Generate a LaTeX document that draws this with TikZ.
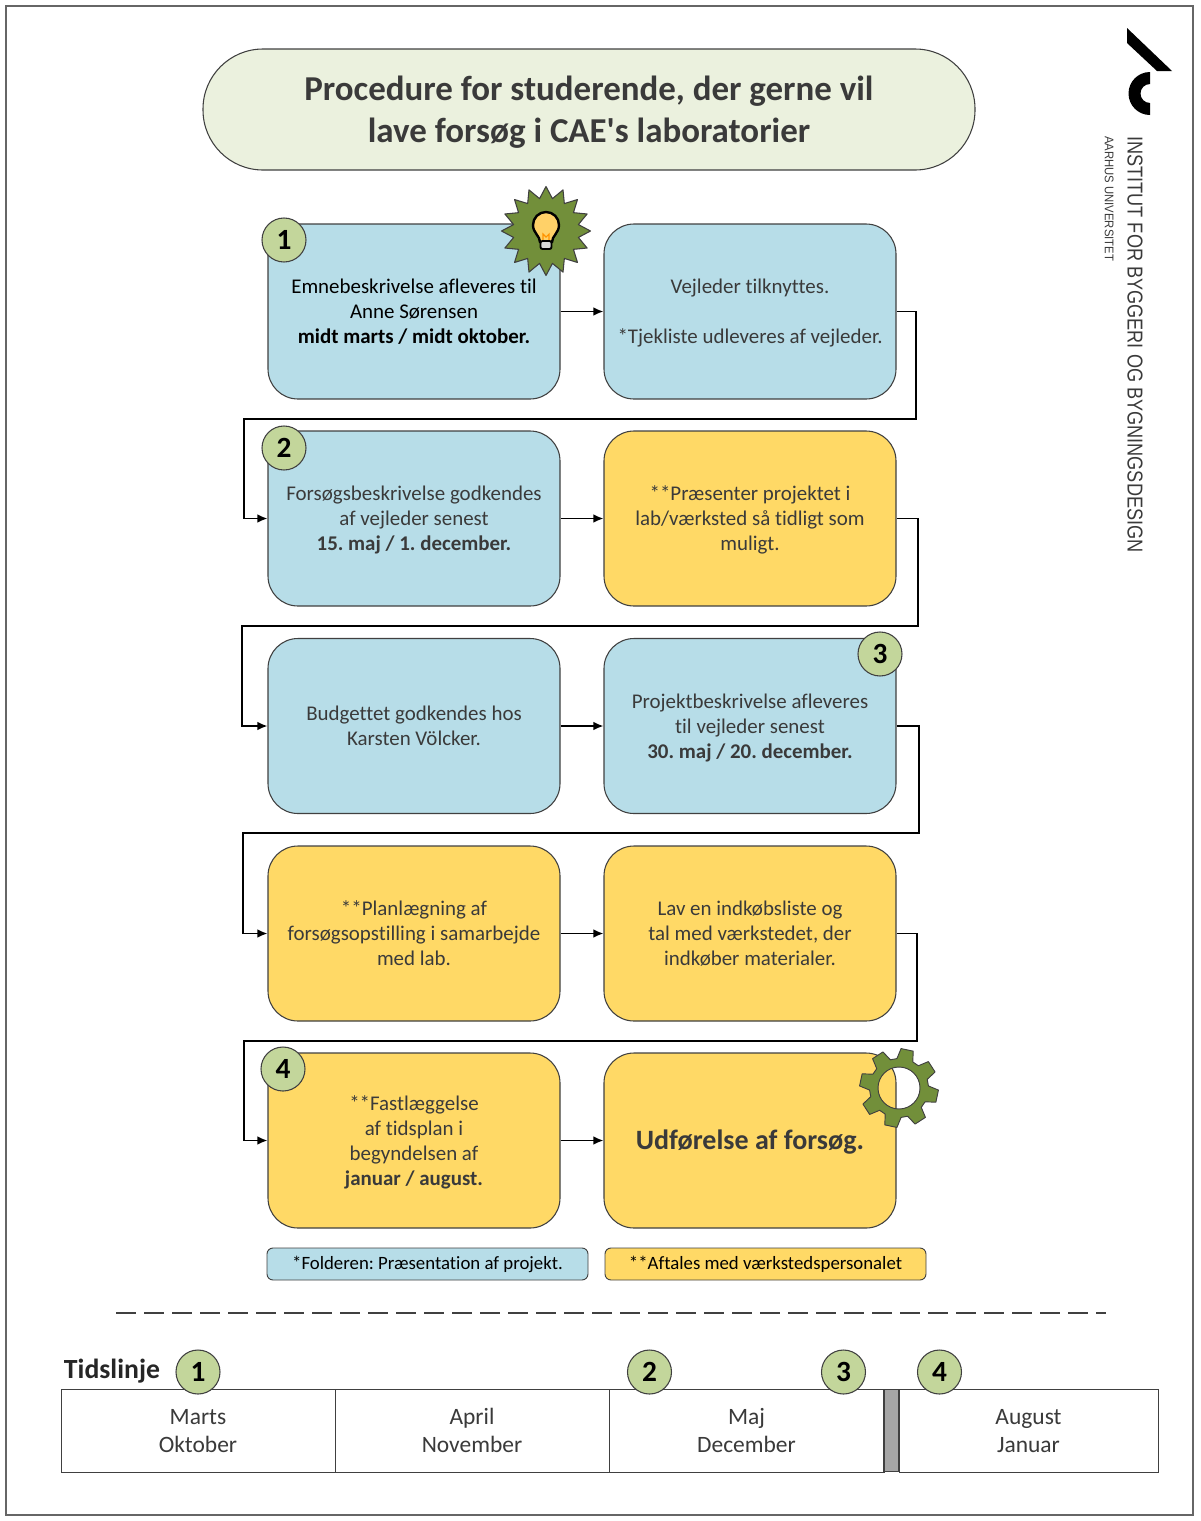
\documentclass[tikz,border=0pt]{standalone}
\usepackage{fontspec}
\defaultfontfeatures[\rmfamily]{}
\setmainfont[Ligatures={NoCommon,NoContextual}]{Carlito}
\newfontfamily\logofont{Liberation Sans}
\usetikzlibrary{arrows.meta}
\definecolor{bluefill}{HTML}{B7DDE8}
\definecolor{yellowfill}{HTML}{FFD966}
\definecolor{titlefill}{HTML}{EBF1DE}
\definecolor{circfill}{HTML}{C3D69B}
\definecolor{iconfill}{HTML}{728F3A}
\definecolor{edge}{HTML}{404040}
\definecolor{txt}{HTML}{3A3A3A}
\newcommand{\pxfont}[2]{\fontsize{#1}{#2}\selectfont}
\newcommand{\Tp}{\rule{0pt}{16.4pt}}
\newcommand{\Tq}{\rule{0pt}{28pt}}
\newcommand{\Tt}{\rule{0pt}{17.7pt}}
\frenchspacing
\tikzset{
  strutted/.style={execute at begin node={\rule{0pt}{#1}},execute at end node={\strut}},
  endstrut/.style={execute at end node={\strut}},
  procbox/.style={endstrut,draw=edge,line width=0.8pt,rounded corners=22.5pt,minimum width=219pt,minimum height=131.25pt,inner sep=0pt,align=center,text=txt,font=\pxfont{15.7}{18.75}},
  bluebox/.style={procbox,fill=bluefill},
  yellowbox/.style={procbox,fill=yellowfill},
  legendbox/.style={strutted=13.4pt,draw=edge,line width=0.7pt,rounded corners=4.5pt,minimum width=240.75pt,minimum height=24pt,inner sep=0pt,align=center,font=\pxfont{14.1}{16}},
  numdot/.style={circle,draw=edge,line width=0.8pt,fill=circfill,minimum size=33pt,inner sep=0pt,font=\pxfont{22}{24}\bfseries},
  flow/.style={draw=black,line width=1.3pt,-{Latex[length=7.5pt,width=6.5pt]}},
  timecell/.style={endstrut,draw=edge,line width=0.7pt,fill=white,minimum height=62.25pt,inner sep=0pt,align=center,text=txt,font=\pxfont{17.6}{21}},
}
\begin{document}
\begin{tikzpicture}[x=0.75pt,y=-0.75pt]
\useasboundingbox (0,0) rectangle (1200,1521);
\draw[draw=edge!80,line width=1pt] (6,6) rectangle (1193,1515);

% title
\node[endstrut,draw=edge,line width=0.8pt,fill=titlefill,rounded corners=45pt,minimum width=579pt,minimum height=90.75pt,inner sep=0pt,align=center,text=txt,font=\pxfont{26.2}{31.5}\bfseries] (title) at (589,109.5) {\Tq Procedure for studerende, der gerne vil\\lave forsøg i CAE's laboratorier};

% logo
\fill[black] (1127,28) -- (1172,71) -- (1157,71) -- (1127,43) -- cycle;
\fill[black] (1150,72) arc[start angle=270,end angle=90,radius=21.5] -- (1150,103) arc[start angle=90,end angle=270,radius=9.5] -- cycle;
\node[rotate=-90,anchor=north west,inner sep=0pt,text=txt,font=\logofont\pxfont{16.2}{20}] (inst) at (1143,136) {\scalebox{0.84}[1]{INSTITUT FOR BYGGERI OG BYGNINGSDESIGN}};
\node[rotate=-90,anchor=north west,inner sep=0pt,text=txt,font=\logofont\pxfont{9.4}{11}] (aau) at (1114,136) {\scalebox{0.9}[1]{AARHUS UNIVERSITET}};

% boxes
\node[bluebox] (a1) at (414,311.5) {\Tp\textcolor{black}{Emnebeskrivelse afleveres til}\\\textcolor{black}{Anne Sørensen}\\\textcolor{black}{\bfseries midt marts / midt oktober.}};
\node[bluebox] (a2) at (750,311.5) {\Tp Vejleder tilknyttes.\\ ~ \\{*}Tjekliste udleveres af vejleder.};
\node[bluebox] (b1) at (414,518.5) {\Tp Forsøgsbeskrivelse godkendes\\af vejleder senest\\{\bfseries 15. maj / 1. december.}};
\node[yellowbox] (b2) at (750,518.5) {\Tp **Præsenter projektet i\\lab/værksted så tidligt som\\muligt.};
\node[bluebox] (c1) at (414,726) {\Tp Budgettet godkendes hos\\Karsten Völcker.};
\node[bluebox] (c2) at (750,726) {\Tp Projektbeskrivelse afleveres\\til vejleder senest\\{\bfseries 30. maj / 20. december.}};
\node[yellowbox] (d1) at (414,933.5) {\Tp **Planlægning af\\forsøgsopstilling i samarbejde\\med lab.};
\node[yellowbox] (d2) at (750,933.5) {\Tp Lav en indkøbsliste og\\tal med værkstedet, der\\indkøber materialer.};
\node[yellowbox] (e1) at (414,1140.5) {\Tp **Fastlæggelse\\af tidsplan i\\begyndelsen af\\{\bfseries januar / august.}};
\node[yellowbox,strutted=21.3pt,font=\pxfont{21}{24}\bfseries] (e2) at (750,1140.5) {Udførelse af forsøg.};

% connector bends
\coordinate (r1) at (916,419); \coordinate (l1) at (244,419);
\coordinate (r2) at (918,626); \coordinate (l2) at (242,626);
\coordinate (r3) at (919,833); \coordinate (l3) at (243,833);
\coordinate (r4) at (917,1041); \coordinate (l4) at (244,1041);

\draw[flow] (a1) -- (a2);
\draw[flow] (b1) -- (b2);
\draw[flow] (c1) -- (c2);
\draw[flow] (d1) -- (d2);
\draw[flow] (e1) -- (e2);
\draw[flow] (a2.east) -| (r1) -- (l1) |- (b1.west);
\draw[flow] (b2.east) -| (r2) -- (l2) |- (c1.west);
\draw[flow] (c2.east) -| (r3) -- (l3) |- (d1.west);
\draw[flow] (d2.east) -| (r4) -- (l4) |- (e1.west);

% number dots
\node[numdot] (n1) at (284,240) {1};
\node[numdot] (n2) at (284,448) {2};
\node[numdot] (n3) at (880,654) {3};
\node[numdot] (n4) at (283,1069) {4};

% starburst and bulb
\begin{scope}[shift={(546,231)}]
\draw[draw=edge,line width=0.8pt,fill=iconfill,line join=round] (90:44.5)
  foreach \k in {0,...,15} { -- ({90+\k*22.5+11.25}:33) -- ({90+(\k+1)*22.5}:44.5) } -- cycle;
\end{scope}
\draw[black,line width=1.8pt,fill=yellowfill!85!orange!90!white] (540,242) .. controls (540,236) and (533,233) .. (533,225) arc[start angle=180,end angle=360,radius=13] .. controls (559,233) and (552,236) .. (552,242) -- cycle;
\draw[orange!85!yellow,line width=0.8pt] (543,241) -- (543,234) -- (546,237) -- (549,234) -- (549,241);
\draw[black,line width=1.4pt,fill=black!15,rounded corners=1.5pt] (540.5,241) rectangle (551.5,249);

% gear
\begin{scope}[shift={(899,1088)}]
\draw[draw=edge,line width=0.7pt,fill=iconfill,line join=round,even odd rule] (-4:29.5)
  foreach \a in {12,57,102,147,192,237,282,327} { -- ({\a-9}:39.5) -- ({\a+9}:39.5) -- ({\a+16}:29.5) -- ({\a+29}:29.5) } -- cycle
  (0,0) circle[radius=21];
\end{scope}

% legends
\node[legendbox,fill=bluefill] (leg1) at (427.5,1264) {*Folderen: Præsentation af projekt.};
\node[legendbox,fill=yellowfill] (leg2) at (765.5,1264) {**Aftales med værkstedspersonalet};

% separator
\coordinate (sepl) at (116,1313); \coordinate (sepr) at (1106,1313);
\draw[draw=edge,line width=0.9pt,dash pattern=on 15pt off 6pt] (sepl) -- (sepr);

% timeline
\node[strutted=19.8pt,anchor=center,inner sep=0pt,font=\pxfont{20.8}{24}\bfseries,text=black!85] (tl) at (112,1370) {Tidslinje};
\node[timecell,minimum width=205.5pt] (t1) at (198,1430.5) {\Tt Marts\\Oktober};
\node[timecell,minimum width=205.5pt] (t2) at (472,1430.5) {\Tt April\\November};
\node[timecell,minimum width=206.25pt] (t3) at (746.5,1430.5) {\Tt Maj\\December};
\node[timecell,minimum width=194.25pt] (t4) at (1028.5,1430.5) {\Tt August\\Januar};
\node[draw=edge,line width=1pt,fill=black!35,minimum width=11.25pt,minimum height=61.5pt,inner sep=0pt] (gap) at (891.5,1430.5) {};
\node[numdot] (m1) at (198,1372) {1};
\node[numdot] (m2) at (649.5,1372) {2};
\node[numdot] (m3) at (843.5,1372) {3};
\node[numdot] (m4) at (939.5,1372) {4};
\end{tikzpicture}
\end{document}
